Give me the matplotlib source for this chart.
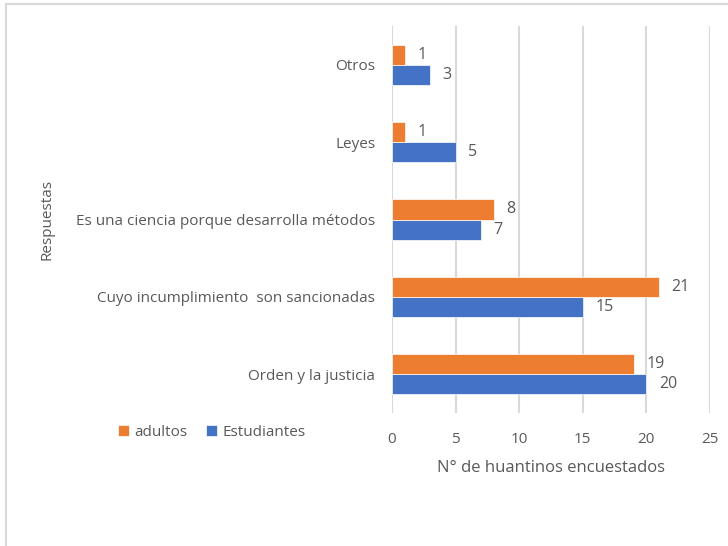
import numpy as np, matplotlib
matplotlib.use("Agg"); import matplotlib.pyplot as plt
from matplotlib.patches import Rectangle
GRAY="#595959";GRID="#d9d9d9";ORANGE="#ED7D31";BLUE="#4472C4"
plt.rcParams.update({"font.family":["Open Sans","DejaVu Sans"],"font.size":10.5,"text.color":GRAY,
  "xtick.color":GRAY,"ytick.color":GRAY,"axes.labelcolor":GRAY})
categorias=["Orden y la justicia","Cuyo incumplimiento  son sancionadas",
            "Es una ciencia porque desarrolla métodos","Leyes","Otros"]
estudiantes=[20,15,7,5,3]
adultos=[19,21,8,1,1]
xticks=[0,5,10,15,20,25]
fig=plt.figure(figsize=(7.28,5.46),dpi=100)
fig.patches.append(Rectangle((6/728,-0.1),1.2,1-4/546+0.1,transform=fig.transFigure,
                             fill=False,ec=GRID,lw=1.5))
ax=fig.add_axes([392/728,1-413/546,318/728,387/546])
y=np.arange(len(categorias));h=0.26
b1=ax.barh(y-h/2,estudiantes,height=h,color=BLUE,label="Estudiantes",ec="white",lw=0.5)
b2=ax.barh(y+h/2,adultos,height=h,color=ORANGE,label="adultos",ec="white",lw=0.5)
for bars in (b1,b2):
    ax.bar_label(bars,padding=9,fontsize=11.5,color=GRAY)
ax.set_xlim(0,25);ax.set_ylim(-0.5,len(categorias)-0.5)
ax.set_xticks(xticks);ax.set_yticks(y,categorias)
ax.grid(axis="x",color=GRID,lw=1.5);ax.set_axisbelow(True)
for s in ax.spines.values():s.set_visible(False)
ax.tick_params(length=0,labelsize=11)
ax.tick_params(axis="x",pad=14)
ax.tick_params(axis="y",pad=12)
ax.set_xlabel("N° de huantinos encuestados",fontsize=12,labelpad=9)
fig.text(47/728,1-220/546,"Respuestas",rotation=90,ha="center",va="center",fontsize=11)
fig.legend(handles=[b2,b1],labels=["adultos","Estudiantes"],loc="center",
           bbox_to_anchor=(212/728,1-432/546),ncol=2,frameon=False,fontsize=11,
           handlelength=0.7,handleheight=0.7,columnspacing=1.2,handletextpad=0.4)
fig.savefig("out.png",dpi=100)
